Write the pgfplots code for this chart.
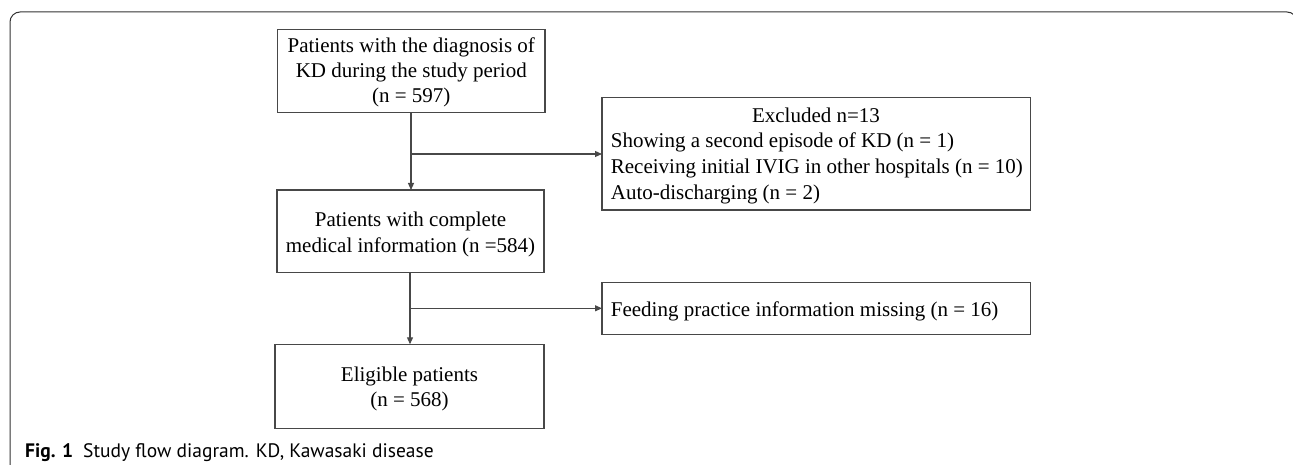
\documentclass[border=0pt]{standalone}
\usepackage{fontspec}
\setmainfont{Liberation Serif}
\newfontfamily\capfont{PT Sans}
\usepackage{pgfplots}
\pgfplotsset{compat=1.18}
\usetikzlibrary{arrows.meta}
\definecolor{boxline}{HTML}{484848}
\begin{document}
\begin{tikzpicture}
\begin{axis}[
  width=1293pt, height=465pt, scale only axis,
  xmin=0, xmax=1293, ymin=0, ymax=465, y dir=reverse,
  axis lines=none, ticks=none, clip=true,
]
\fill[white] (axis cs:0,0) rectangle (axis cs:1293,465);
% outer frame
\draw[black!80, line width=1pt, rounded corners=10pt] (axis cs:10,490) -- (axis cs:10,12) -- (axis cs:1297,12) -- (axis cs:1297,490);
% boxes
\draw[boxline, line width=1.1pt] (axis cs:277.5,29.5) rectangle (axis cs:545,112.3);
\draw[boxline, line width=1.1pt] (axis cs:277,190) rectangle (axis cs:544,272.5);
\draw[boxline, line width=1.1pt] (axis cs:275,344.3) rectangle (axis cs:544,428.3);
\draw[boxline, line width=1.1pt] (axis cs:602,97.3) rectangle (axis cs:1030.7,210);
\draw[boxline, line width=1.1pt] (axis cs:602,282.7) rectangle (axis cs:1030.7,334.3);
% arrows
\draw[boxline, line width=1.1pt, -{Triangle[length=7pt,width=6pt]}] (axis cs:411,112.3) -- (axis cs:411,190);
\draw[boxline, line width=1.1pt, -{Triangle[length=7pt,width=6pt]}] (axis cs:411,154) -- (axis cs:602,154);
\draw[boxline, line width=1.1pt, -{Triangle[length=7pt,width=6pt]}] (axis cs:410,272.5) -- (axis cs:410,344.3);
\draw[boxline, line width=1.1pt, -{Triangle[length=7pt,width=6pt]}] (axis cs:410,308.3) -- (axis cs:602,308.3);
% texts
\begin{scope}[every node/.style={inner sep=0pt, font=\fontsize{21}{25}\selectfont}]
\node[anchor=base] at (axis cs:411.3,53) {Patients with the diagnosis of};
\node[anchor=base] at (axis cs:411.3,78) {KD during the study period};
\node[anchor=base] at (axis cs:411.3,103) {(n = 597)};
\node[anchor=base] at (axis cs:410.5,226) {Patients with complete};
\node[anchor=base] at (axis cs:410.5,252) {medical information (n =584)};
\node[anchor=base] at (axis cs:409.5,381.5) {Eligible patients};
\node[anchor=base] at (axis cs:409.5,406.5) {(n = 568)};
\node[anchor=base] at (axis cs:816,122.5) {Excluded n=13};
\node[anchor=base west] at (axis cs:610.7,148) {Showing a second episode of KD (n = 1)};
\node[anchor=base west] at (axis cs:610.7,173.5) {Receiving initial IVIG in other hospitals (n = 10)};
\node[anchor=base west] at (axis cs:610.7,199.5) {Auto-discharging (n = 2)};
\node[anchor=base west] at (axis cs:610.7,316.5) {Feeding practice information missing (n = 16)};
\node[anchor=base west, font=\capfont\fontsize{19.5}{23}\selectfont] at (axis cs:25,457) {\textbf{Fig. 1}\hspace{10pt}Study flow diagram. KD, Kawasaki disease};
\end{scope}
\end{axis}
\end{tikzpicture}
\end{document}
